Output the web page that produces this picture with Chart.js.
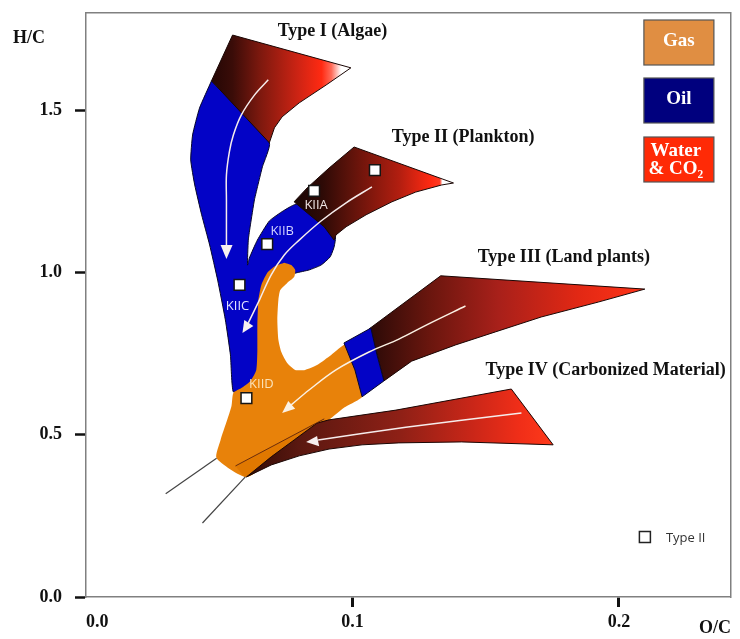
<!DOCTYPE html>
<html>
<head>
<meta charset="utf-8">
<style>
  html, body { margin: 0; padding: 0; background: #fff; }
  canvas { display: block; }
</style>
</head>
<body>
<canvas id="vk" width="740" height="639"></canvas>
<script src="https://cdn.jsdelivr.net/npm/chart.js@4.4.1/dist/chart.umd.min.js"></script>
<script>
// van Krevelen diagram, H/C against O/C, kerogen types and their maturation bands

// axis ranges and tick steps
const ocRange = [0, 0.242];
const hcRange = [0, 1.8];
const ocStep = 0.1;
const hcStep = 0.5;

// band outlines, [O/C, H/C]
const oilZone = [
  [0.0471, 1.591], [0.0426, 1.507], [0.0400, 1.424], [0.0393, 1.347], [0.0408, 1.270],
  [0.0434, 1.178], [0.0464, 1.085], [0.0494, 0.977], [0.0523, 0.854], [0.0542, 0.746],
  [0.0553, 0.632], [0.0606, 0.654], [0.0643, 0.694], [0.0658, 0.792], [0.0669, 0.900],
  [0.0688, 0.953], [0.0733, 0.986], [0.0789, 0.999], [0.0837, 1.008], [0.0882, 1.023],
  [0.0916, 1.048], [0.0931, 1.079], [0.0935, 1.113], [0.0793, 1.211], [0.0740, 1.190],
  [0.0688, 1.159], [0.0643, 1.100], [0.0613, 1.045], [0.0606, 1.023], [0.0609, 1.100],
  [0.0617, 1.147], [0.0632, 1.224], [0.0647, 1.276], [0.0662, 1.326], [0.0688, 1.400]
];
const gasZone = [
  [0.0744, 1.030], [0.0770, 1.023], [0.0785, 1.008], [0.0781, 0.986], [0.0755, 0.968],
  [0.0729, 0.946], [0.0722, 0.916], [0.0718, 0.854], [0.0722, 0.792], [0.0733, 0.755],
  [0.0755, 0.721], [0.0785, 0.700], [0.0822, 0.700], [0.0867, 0.715], [0.0920, 0.746],
  [0.0979, 0.780], [0.1013, 0.706], [0.1039, 0.620], [0.0968, 0.583], [0.0912, 0.546],
  [0.0800, 0.478], [0.0707, 0.428], [0.0602, 0.370], [0.0490, 0.428], [0.0505, 0.484],
  [0.0527, 0.539], [0.0546, 0.589], [0.0553, 0.629], [0.0583, 0.644], [0.0617, 0.666],
  [0.0639, 0.700], [0.0643, 0.761], [0.0643, 0.838], [0.0647, 0.916], [0.0658, 0.962],
  [0.0680, 0.999], [0.0710, 1.020]
];
const typeIWater = [
  [0.0471, 1.591], [0.0550, 1.732], [0.0994, 1.631], [0.0901, 1.578], [0.0800, 1.523],
  [0.0736, 1.480], [0.0707, 1.446], [0.0688, 1.400]
];
const typeIIWater = [
  [0.0781, 1.218], [0.0830, 1.261], [0.0912, 1.322], [0.1006, 1.387], [0.1379, 1.276],
  [0.1335, 1.270], [0.1237, 1.248], [0.1148, 1.218], [0.1051, 1.178], [0.0976, 1.141],
  [0.0938, 1.116], [0.0931, 1.100], [0.0894, 1.141], [0.0830, 1.184]
];
const typeIIIOil = [
  [0.0968, 0.783], [0.1069, 0.829], [0.1092, 0.746], [0.1118, 0.666], [0.1036, 0.617], [0.1009, 0.700]
];
const typeIIIWater = [
  [0.1062, 0.826], [0.1331, 0.990], [0.2097, 0.949], [0.1922, 0.909], [0.1708, 0.863],
  [0.1536, 0.817], [0.1387, 0.777], [0.1222, 0.727], [0.1118, 0.666], [0.1092, 0.746]
];
const typeIVGas = [
  [0.0561, 0.404], [0.0894, 0.549], [0.0867, 0.536], [0.0781, 0.484], [0.0695, 0.432],
  [0.0602, 0.370], [0.0591, 0.373]
];
const typeIVWater = [
  [0.0602, 0.370], [0.0695, 0.432], [0.0781, 0.484], [0.0867, 0.536], [0.0912, 0.546],
  [0.1163, 0.576], [0.1596, 0.641], [0.1753, 0.469], [0.1409, 0.478], [0.1174, 0.475],
  [0.1036, 0.469], [0.0912, 0.456], [0.0800, 0.435], [0.0695, 0.407]
];
const typeIVEdge = [[0.0561, 0.404], [0.0894, 0.549]];
const tailUpper = [[0.0490, 0.428], [0.0299, 0.318]];
const tailLower = [[0.0598, 0.370], [0.0437, 0.228]];

// maturation paths and their arrow heads
const pathI = [
  [0.0684, 1.594], [0.0632, 1.547], [0.0583, 1.486], [0.0553, 1.424], [0.0538, 1.372],
  [0.0527, 1.301], [0.0527, 1.224], [0.0527, 1.147], [0.0527, 1.076]
];
const headI = [[0.0527, 1.042], [0.0505, 1.085], [0.0550, 1.085]];
const pathII = [
  [0.1073, 1.264], [0.0976, 1.215], [0.0882, 1.159], [0.0800, 1.100], [0.0744, 1.054],
  [0.0695, 0.993], [0.0651, 0.916], [0.0609, 0.845]
];
const headII = [[0.0587, 0.814], [0.0628, 0.835], [0.0594, 0.854]];
const pathIII = [
  [0.1424, 0.897], [0.1286, 0.842], [0.1174, 0.795], [0.1062, 0.755], [0.0938, 0.700],
  [0.0837, 0.638], [0.0770, 0.592]
];
const headIII = [[0.0736, 0.567], [0.0785, 0.580], [0.0759, 0.604]];
const pathIV = [[0.1634, 0.567], [0.1200, 0.523], [0.0871, 0.484]];
const headIV = [[0.0826, 0.478], [0.0875, 0.465], [0.0867, 0.496]];

// Type II samples
const sampleNames = ['KIIA', '', 'KIIB', 'KIIC', 'KIID'];
const sampleOC = [0.0856, 0.1084, 0.0680, 0.0576, 0.0602];
const sampleHC = [1.252, 1.316, 1.088, 0.962, 0.613];

const serif = '"Liberation Serif", "Times New Roman", serif';
const sans = '"Open Sans", "Liberation Sans", sans-serif';
Chart.defaults.font.family = serif;

function hGrad(pts, stops) {
  const xs = pts.map(p => p[0]);
  const x0 = Math.min(...xs), x1 = Math.max(...xs);
  return (c) => {
    const chart = c.chart;
    if (!chart.chartArea) return stops[0][1];
    const sx = chart.scales.x;
    const g = chart.ctx.createLinearGradient(sx.getPixelForValue(x0), 0, sx.getPixelForValue(x1), 0);
    stops.forEach(([o, col]) => g.addColorStop(o, col));
    return g;
  };
}

function area(pts, opts) {
  const data = pts.concat([pts[0]]).map(([x, y]) => ({x, y}));
  return Object.assign({
    type: 'line', data, fill: 'shape', pointRadius: 0, tension: 0,
    borderWidth: 1, borderColor: '#1a0604', borderJoinStyle: 'round'
  }, opts);
}

function path(pts, opts) {
  return Object.assign({
    type: 'line', data: pts.map(([x, y]) => ({x, y})), fill: false, pointRadius: 0,
    tension: 0.35, borderWidth: 1.5, borderColor: '#f6ecec'
  }, opts);
}

const datasets = [
  {
    type: 'scatter', label: 'Type II',
    data: sampleOC.map((x, i) => ({x, y: sampleHC[i]})),
    pointStyle: 'rect', pointRadius: 7.6, backgroundColor: '#fff',
    borderColor: '#151515', borderWidth: 1.5, order: 0
  },
  area(headI, {backgroundColor: '#f8f0f0', borderWidth: 0, order: 2}),
  area(headII, {backgroundColor: '#f8f0f0', borderWidth: 0, order: 2}),
  area(headIII, {backgroundColor: '#fbf1e4', borderWidth: 0, order: 2}),
  area(headIV, {backgroundColor: '#f8f0f0', borderWidth: 0, order: 2}),
  path(pathI, {order: 3}),
  path(pathII, {order: 3}),
  path(pathIII, {order: 3, borderColor: '#fbf1e4'}),
  path(pathIV, {order: 3, tension: 0.2}),
  path(tailUpper, {order: 4, borderColor: '#444', borderWidth: 1.2, tension: 0}),
  path(tailLower, {order: 4, borderColor: '#444', borderWidth: 1.2, tension: 0}),
  path(typeIVEdge, {order: 4, borderColor: '#6a2c0c', borderWidth: 1, tension: 0}),
  area(typeIVWater, {order: 5, backgroundColor: hGrad(typeIVWater, [
    [0, '#2e0c06'], [0.04, '#3a0e08'], [0.17, '#5a1810'], [0.5, '#8e2016'],
    [0.73, '#c82618'], [0.89, '#f02e18'], [1, '#ff3a1a']])}),
  area(typeIVGas, {order: 6, backgroundColor: '#e07800', borderWidth: 0}),
  area(typeIIIOil, {order: 7, backgroundColor: '#0303c6', borderColor: '#08082a'}),
  area(typeIIIWater, {order: 7, backgroundColor: hGrad(typeIIIWater, [
    [0, '#2a0a07'], [0.22, '#6a160e'], [0.47, '#a8201a'], [0.76, '#e22814'], [1, '#ff3418']])}),
  area(gasZone, {order: 8, backgroundColor: '#e8820a', borderWidth: 0, tension: 0.2}),
  area(typeIWater, {order: 9, backgroundColor: hGrad(typeIWater, [
    [0, '#240705'], [0.15, '#3a0c08'], [0.34, '#7a180e'], [0.63, '#d02414'],
    [0.79, '#ff2a12'], [0.86, '#ff6a58'], [0.93, '#ffffff'], [1, '#ffffff']])}),
  area(typeIIWater, {order: 9, backgroundColor: hGrad(typeIIWater, [
    [0, '#1a0604'], [0.18, '#2e0a06'], [0.34, '#5a120a'], [0.66, '#b21e10'],
    [0.86, '#ff2a12'], [0.915, '#ff3a22'], [0.93, '#ffffff'], [1, '#ffffff']])}),
  area(oilZone, {order: 10, backgroundColor: '#0303c6', borderColor: '#08082a', tension: 0.15})
];

// text placed on the diagram
const typeNames = ['Type I (Algae)', 'Type II (Plankton)', 'Type III (Land plants)', 'Type IV (Carbonized Material)'];
const typeNameAt = [[0.0925, 1.745], [0.1415, 1.418], [0.1793, 1.048], [0.1950, 0.700]];
const sampleShift = [[2, 15], null, [15, -13], [-2, 21], [15, -14]];
const sampleInk = ['#efe4e4', null, '#d4d4ff', '#e2e2ff', '#fbe2b8'];
const zoneKey = [
  {lines: ['Gas'], fill: '#e08e42'},
  {lines: ['Oil'], fill: '#00007e'},
  {lines: ['Water', '& CO₂'], fill: '#ff2a06'}
];

const notes = {
  id: 'notes',
  afterDatasetsDraw(chart) {
    const {ctx, chartArea: ca, scales: {x, y}} = chart;
    ctx.save();
    ctx.textAlign = 'center';
    ctx.textBaseline = 'middle';

    ctx.fillStyle = '#111';
    ctx.font = 'bold 18px ' + serif;
    typeNames.forEach((t, i) => {
      ctx.fillText(t, x.getPixelForValue(typeNameAt[i][0]), y.getPixelForValue(typeNameAt[i][1]));
    });

    ctx.font = '13px ' + sans;
    sampleNames.forEach((n, i) => {
      if (!n) return;
      ctx.fillStyle = sampleInk[i];
      ctx.fillText(n, x.getPixelForValue(sampleOC[i]) + sampleShift[i][0],
        y.getPixelForValue(sampleHC[i]) + sampleShift[i][1]);
    });

    // zone key, top right
    const kx = ca.right - 87, tops = [ca.top + 7, ca.top + 65, ca.top + 124];
    zoneKey.forEach((k, i) => {
      ctx.fillStyle = k.fill;
      ctx.fillRect(kx, tops[i], 70, 45);
      ctx.strokeStyle = '#555';
      ctx.lineWidth = 1.2;
      ctx.strokeRect(kx, tops[i], 70, 45);
      ctx.fillStyle = '#fff';
      ctx.font = 'bold 19px ' + serif;
      if (k.lines.length === 1) {
        ctx.fillText(k.lines[0], kx + 35, tops[i] + 21);
      } else {
        ctx.fillText(k.lines[0], kx + 32, tops[i] + 14);
        ctx.fillText(k.lines[1], kx + 32, tops[i] + 32);
      }
    });

    // sample legend, bottom right
    const lx = ca.right - 86, ly = ca.bottom - 60;
    ctx.fillStyle = '#fff';
    ctx.fillRect(lx - 5.5, ly - 5.5, 11, 11);
    ctx.strokeStyle = '#222';
    ctx.lineWidth = 1.5;
    ctx.strokeRect(lx - 5.5, ly - 5.5, 11, 11);
    ctx.fillStyle = '#333';
    ctx.font = '13px ' + sans;
    ctx.textAlign = 'left';
    ctx.fillText('Type II', lx + 21, ly + 1);

    // y axis name, top left
    ctx.fillStyle = '#111';
    ctx.font = 'bold 18px ' + serif;
    ctx.fillText('H/C', 13, 38);
    ctx.restore();
  }
};

const frame = {color: '#808080', width: 1.5};

function noPad(s) {
  s.paddingTop = 0;
  s.paddingBottom = 0;
  s.paddingLeft = 0;
  s.paddingRight = 0;
}

new Chart(document.getElementById('vk'), {
  type: 'scatter',
  data: {datasets},
  plugins: [notes],
  options: {
    responsive: false,
    animation: false,
    events: [],
    layout: {padding: 0},
    plugins: {legend: {display: false}, tooltip: {enabled: false}},
    scales: {
      x: {
        type: 'linear', position: 'bottom', min: ocRange[0], max: ocRange[1],
        ticks: {
          stepSize: ocStep, align: 'inner', padding: 5, color: '#111',
          font: {size: 18, weight: 'bold'},
          callback: v => (v > 0.21 ? '' : v.toFixed(1))
        },
        grid: {
          drawOnChartArea: false, tickLength: 10, tickWidth: 3,
          tickColor: c => (c.tick && c.tick.value > 0 && c.tick.value < 0.21) ? '#111' : 'rgba(0,0,0,0)'
        },
        border: frame,
        title: {display: true, text: 'O/C', align: 'end', color: '#111', font: {size: 18, weight: 'bold'}, padding: 0},
        afterFit: s => { s.height = 42; noPad(s); }
      },
      y: {
        type: 'linear', position: 'left', min: hcRange[0], max: hcRange[1],
        ticks: {
          stepSize: hcStep, includeBounds: false, padding: 13, color: '#111',
          font: {size: 18, weight: 'bold'},
          callback: v => v.toFixed(1)
        },
        grid: {drawOnChartArea: false, tickLength: 11, tickWidth: 2.5, tickColor: '#111'},
        border: frame,
        afterFit: s => { s.width = 86; noPad(s); }
      },
      xTop: {
        type: 'linear', position: 'top', min: ocRange[0], max: ocRange[1],
        ticks: {display: false}, grid: {display: false}, border: frame,
        afterFit: s => { s.height = 13; noPad(s); }
      },
      yRight: {
        type: 'linear', position: 'right', min: hcRange[0], max: hcRange[1],
        ticks: {display: false}, grid: {display: false}, border: frame,
        afterFit: s => { s.width = 7; noPad(s); }
      }
    }
  }
});
</script>
</body>
</html>
